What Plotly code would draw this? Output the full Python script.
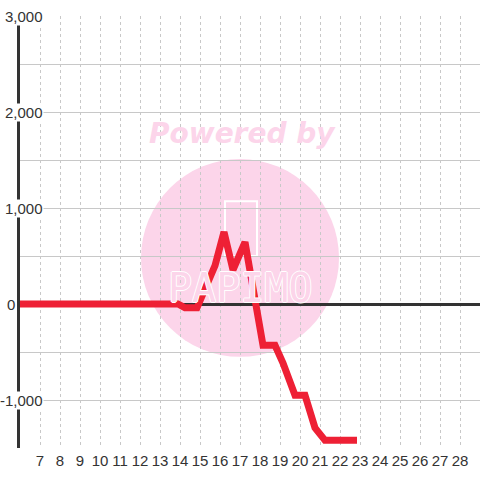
import plotly.graph_objects as go

# values
x_vals = [6, 13.9, 14.25, 14.85, 15.75, 16.2, 16.65, 17.25, 18.15, 18.75, 19.15, 19.75, 20.25, 20.75, 21.25, 22.85]
y_vals = [0, 0, -40, -40, 400, 750, 355, 645, -430, -430, -615, -950, -950, -1290, -1420, -1420]
x_ticks = list(range(7, 29))
y_labels = [3000, 2000, 1000, -1000]

fig = go.Figure()
fig.add_trace(go.Scatter(x=x_vals, y=y_vals, mode='lines',
                         line=dict(color='#ee2035', width=7), hoverinfo='skip'))

pink = '#fcd5ea'
# watermark
fig.add_shape(type='circle', xref='x', yref='y', x0=12.05, x1=21.95, y0=-550, y1=1510,
              fillcolor=pink, line=dict(width=0), layer='below')
fig.add_shape(type='rect', xref='x', yref='y', x0=16.25, x1=17.85, y0=500, y1=1070,
              line=dict(color='white', width=2), fillcolor='rgba(0,0,0,0)', layer='below')
fig.add_annotation(x=17.1, y=1780, xref='x', yref='y', text='<b><i>Powered by</i></b>',
                   showarrow=False, font=dict(family='DejaVu Sans', size=28, color=pink))
fig.add_annotation(x=17.0, y=170, xref='x', yref='y', text='PAPIMO', showarrow=False,
                   font=dict(family='DejaVu Sans Mono', size=40, color=pink,
                             shadow='1px 0 0 #fff, -1px 0 0 #fff, 0 1px 0 #fff, 0 -1px 0 #fff'))

# y tick labels with white backing, sitting over the axis line
for v in y_labels:
    fig.add_annotation(x=0.052, y=v, xref='paper', yref='y', xanchor='right', yanchor='middle',
                       text=f'{v:,}', showarrow=False, bgcolor='white', borderpad=0,
                       font=dict(family='Liberation Sans', size=15, color='#333'))
fig.add_annotation(x=-0.006, y=0, xref='paper', yref='y', xanchor='right', yanchor='middle',
                   text='0', showarrow=False, bgcolor='white', borderpad=1,
                   font=dict(family='Liberation Sans', size=15, color='#333'))

fig.update_xaxes(range=[6, 29], tickvals=x_ticks, ticktext=[str(t) for t in x_ticks],
                 showgrid=True, gridcolor='#c8c8c8', griddash='dot', gridwidth=1,
                 zeroline=False, showline=False, ticks='', ticklabelstandoff=2,
                 tickfont=dict(family='Liberation Sans', size=15, color='#333'))
fig.update_yaxes(range=[-1500, 3000], dtick=500, showticklabels=False,
                 showgrid=True, gridcolor='#c8c8c8', gridwidth=1,
                 zeroline=True, zerolinecolor='#333', zerolinewidth=3,
                 showline=True, linecolor='#333', linewidth=3, ticks='')

fig.update_layout(width=480, height=480, margin=dict(l=20, r=0, t=16, b=32),
                  plot_bgcolor='white', paper_bgcolor='white', showlegend=False)

# drop the default 8px page margin so the figure fills the window
fig.write_html("out.html", config={'displayModeBar': False},
               post_script="document.body.style.margin='0';")
